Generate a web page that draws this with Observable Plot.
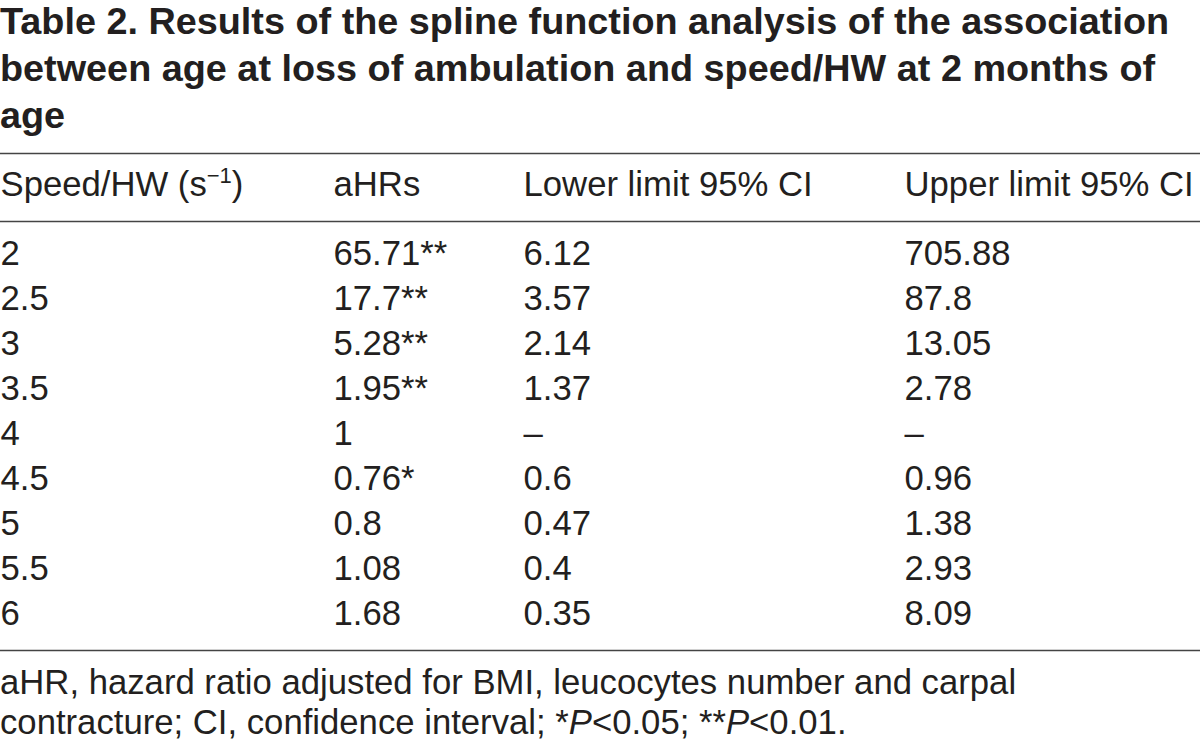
<!DOCTYPE html>
<html>
<head>
<meta charset="utf-8">
<script src="https://cdn.jsdelivr.net/npm/d3@7"></script>
<script src="https://cdn.jsdelivr.net/npm/@observablehq/plot@0.6"></script>
<style>
  html, body { margin: 0; padding: 0; background: #fff; }
  body { width: 1200px; height: 744px; position: relative; overflow: hidden;
         font-family: "Liberation Sans", Arial, Helvetica, sans-serif; color: #231f20; }
  #title { position: absolute; left: 0; top: -2px; width: 1200px; margin: 0;
           font-weight: bold; font-size: 37.8px; line-height: 47px; white-space: nowrap; }
  #table { position: absolute; left: 0; top: 140px; }
  #caption { position: absolute; left: 0; top: 662px; width: 1200px; margin: 0;
             font-size: 34.7px; line-height: 40px; white-space: nowrap; }
</style>
</head>
<body>
<div id="title">Table 2. Results of the spline function analysis of the association<br>between age at loss of ambulation and speed/HW at 2 months of<br>age</div>
<div id="table"></div>
<div id="caption">aHR, hazard ratio adjusted for BMI, leucocytes number and carpal<br>contracture; CI, confidence interval; *<i>P</i>&lt;0.05; **<i>P</i>&lt;0.01.</div>
<script>
// ---- data ----
const headers = ["Speed/HW (s\u207B\u00B9)", "aHRs", "Lower limit 95% CI", "Upper limit 95% CI"];
const speeds = [2, 2.5, 3, 3.5, 4, 4.5, 5, 5.5, 6];
const aHR = [65.71, 17.7, 5.28, 1.95, 1, 0.76, 0.8, 1.08, 1.68];
const significance = ["**", "**", "**", "**", "", "*", "", "", ""];
const lowerCI = [6.12, 3.57, 2.14, 1.37, null, 0.6, 0.47, 0.4, 0.35];
const upperCI = [705.88, 87.8, 13.05, 2.78, null, 0.96, 1.38, 2.93, 8.09];

// ---- build cells ----
const fmt = v => v == null ? "\u2013" : String(v);
const cells = [];
headers.forEach((h, c) => cells.push({col: c, row: 0, text: h}));
speeds.forEach((s, i) => {
  const r = i + 1;
  cells.push({col: 0, row: r, text: fmt(s)});
  cells.push({col: 1, row: r, text: fmt(aHR[i]) + significance[i]});
  cells.push({col: 2, row: r, text: fmt(lowerCI[i])});
  cells.push({col: 3, row: r, text: fmt(upperCI[i])});
});
const nRows = speeds.length;
const rules = [-0.5, 0.5, nRows + 0.5];

const chart = Plot.plot({
  width: 1200,
  height: 520,
  margin: 0,
  style: {fontFamily: '"Liberation Sans", Arial, Helvetica, sans-serif', background: "white"},
  x: {type: "linear", domain: [0, 1, 2, 3], range: [0, 333, 523, 904], axis: null},
  y: {type: "linear", domain: [-0.5, 0, 0.5, 1, nRows, nRows + 0.5], range: [13, 44, 81, 113, 473, 510], axis: null},
  marks: [
    Plot.ruleY(rules, {y: d => d, stroke: "#444", strokeWidth: 1.5}),
    Plot.text(cells, {x: "col", y: "row", text: "text", textAnchor: "start",
      fontSize: 34.7, fill: "#231f20"})
  ]
});
document.getElementById("table").appendChild(chart);

// typographic superscript for the unit in the header
chart.querySelectorAll("text").forEach(t => {
  if (t.textContent === headers[0]) {
    t.textContent = "";
    const ns = "http://www.w3.org/2000/svg";
    const a = document.createElementNS(ns, "tspan"); a.textContent = "Speed/HW (s";
    const b = document.createElementNS(ns, "tspan"); b.textContent = "\u22121";
    b.setAttribute("font-size", "22"); b.setAttribute("dy", "-13");
    const c = document.createElementNS(ns, "tspan"); c.textContent = ")";
    c.setAttribute("dy", "13");
    t.append(a, b, c);
  }
});
</script>
</body>
</html>
